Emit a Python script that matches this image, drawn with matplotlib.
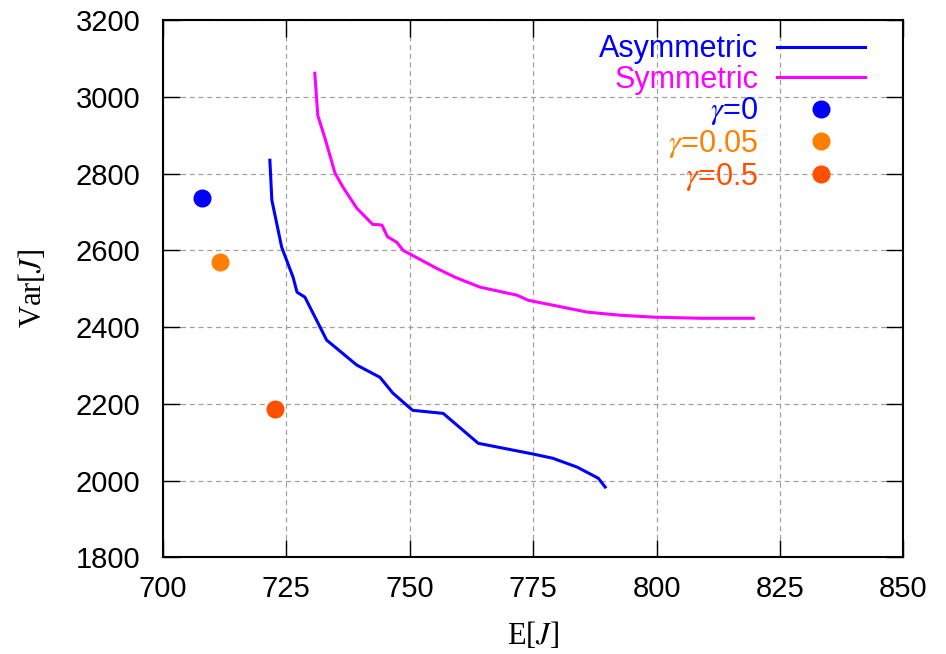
import matplotlib
matplotlib.use("Agg")
import matplotlib.pyplot as plt

# Asymmetric front
asym_e = [721.7, 722.1, 724.1, 726.4, 727.2, 728.8, 733.2, 739.3, 744.0,
          746.6, 750.6, 756.8, 763.9, 775.0, 779.0, 783.9, 788.2, 789.6]
asym_v = [2835, 2731, 2608, 2530, 2491, 2478, 2366, 2301, 2269,
          2228, 2183, 2175, 2097, 2069, 2058, 2035, 2006, 1983]

# Symmetric front
sym_e = [730.8, 731.4, 732.8, 734.9, 736.5, 739.3, 742.5, 744.4, 745.5,
         747.4, 748.7, 755.5, 759.2, 764.3, 771.8, 774.0, 786.0, 792.6,
         799.3, 808.9, 819.6]
sym_v = [3062, 2952, 2895, 2801, 2765, 2710, 2668, 2666, 2636,
         2621, 2600, 2553, 2530, 2504, 2483, 2470, 2439, 2431,
         2426, 2423, 2423]

# single points
gamma_labels = ["$\\gamma$=0", "$\\gamma$=0.05", "$\\gamma$=0.5"]
gamma_e = [707.9, 711.6, 722.7]
gamma_v = [2736, 2569, 2186]
gamma_colors = ["#0000ff", "#ff8000", "#ff5000"]

plt.rcParams['font.family'] = ['Liberation Sans', 'DejaVu Sans']
plt.rcParams['mathtext.fontset'] = 'stix'

fig = plt.figure(figsize=(9.46, 6.54), dpi=100)
ax = fig.add_axes([0.172, 0.148, 0.783, 0.821])

ax.plot(asym_e, asym_v, color="#0000ff", lw=2.2, label="Asymmetric")
ax.plot(sym_e, sym_v, color="#ff00ff", lw=2.2, label="Symmetric")
for lab, e, v, c in zip(gamma_labels, gamma_e, gamma_v, gamma_colors):
    ax.plot([e], [v], 'o', color=c, ms=12, label=lab)

ax.set_xlim(700, 850)
ax.set_ylim(1800, 3200)
ax.set_xticks(range(700, 851, 25))
ax.set_yticks(range(1800, 3201, 200))
ax.grid(True, color="#a0a0a0", ls=(0, (4, 3)), lw=0.9)
ax.tick_params(direction='in', top=True, right=True, length=12, width=1,
               labelsize=21)
ax.tick_params(axis='x', pad=13)
ax.tick_params(axis='y', pad=16)
for s in ax.spines.values():
    s.set_linewidth(1.5)

ax.set_xlabel("E[$J$]", fontsize=22, family=['Liberation Serif'], labelpad=12)
ax.set_ylabel("Var[$J$]", fontsize=22, family=['Liberation Serif'], labelpad=20)

ax.legend(loc='upper right', bbox_to_anchor=(0.9486, 0.974), frameon=False,
          markerfirst=False, labelcolor='linecolor', fontsize=22,
          handlelength=2.9, handletextpad=0.6, labelspacing=0.02,
          borderaxespad=0, borderpad=0)

fig.savefig("out.png", dpi=100)
